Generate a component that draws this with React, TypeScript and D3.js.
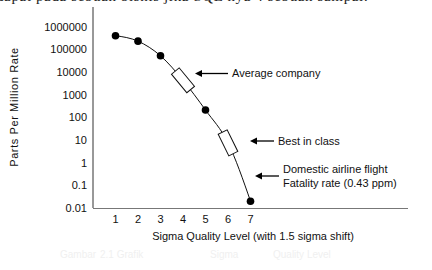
import React, { useRef, useEffect } from "react";
import * as d3 from "d3";

const sigmaLevels = [1, 2, 3, 4, 5, 6, 7];
const ppmValues = [400000, 230000, 52000, 4300, 210, 7.5, 0.02];
const markerKind = ["dot", "dot", "dot", "box", "dot", "box", "dot"];
const yTicks = [1000000, 100000, 10000, 1000, 100, 10, 1, 0.1, 0.01];
const yTickLabels = ["1000000", "100000", "10000", "1000", "100", "10", "1", "0.1", "0.01"];

const notes = [
  { lines: ["Average company"], head: 195, tail: 228, y: 73.5, tx: 232 },
  { lines: ["Best in class"], head: 250, tail: 274, y: 141, tx: 278 },
  { lines: ["Domestic airline flight", "Fatality rate (0.43 ppm)"], head: 255, tail: 279, y: 176, tx: 283 },
];

const captionWords = [
  { t: "Gambar", x: 60 },
  { t: "2.1 Grafik", x: 100 },
  { t: "Sigma", x: 210 },
  { t: "Quality Level", x: 273 },
];

const App = () => {
  const ref = useRef<SVGSVGElement>(null);

  useEffect(() => {
    if (!ref.current) return;
    const svg = d3.select(ref.current);
    svg.selectAll("*").remove();

    const font = "Arial, 'Liberation Sans', sans-serif";

    svg.append("rect").attr("width", 432).attr("height", 270).attr("fill", "#fff");

    // cut-off line of the surrounding document text (only its lower edge shows)
    svg
      .append("text")
      .attr("x", -4)
      .attr("y", 0.5)
      .attr("textLength", 372)
      .attr("font-family", "'Liberation Serif', 'Times New Roman', serif")
      .attr("font-size", 15)
      .attr("fill", "#222")
      .text("dapat pada sebuah bisnis jika SQL nya 4 sebuah sampai:");

    const x = d3.scaleLinear().domain([0, 14]).range([93, 408]);
    const y = d3.scaleLog().domain([0.01, 1000000]).range([208, 26.7]);

    // axes
    svg
      .append("line")
      .attr("x1", 93).attr("x2", 93)
      .attr("y1", 7).attr("y2", 208)
      .attr("stroke", "#333");
    svg
      .append("line")
      .attr("x1", 93).attr("x2", 408)
      .attr("y1", 208.5).attr("y2", 208.5)
      .attr("stroke", "#777");

    svg
      .append("g")
      .selectAll("text")
      .data(yTicks)
      .enter()
      .append("text")
      .attr("x", 87)
      .attr("y", (d) => y(d))
      .attr("dy", "0.35em")
      .attr("text-anchor", "end")
      .attr("font-family", font)
      .attr("font-size", 11)
      .attr("fill", "#111")
      .text((d, i) => yTickLabels[i]);

    svg
      .append("g")
      .selectAll("text")
      .data(sigmaLevels)
      .enter()
      .append("text")
      .attr("x", (d) => x(d))
      .attr("y", 219.5)
      .attr("dy", "0.35em")
      .attr("text-anchor", "middle")
      .attr("font-family", font)
      .attr("font-size", 11)
      .attr("fill", "#111")
      .text((d) => d);

    svg
      .append("text")
      .attr("x", 253)
      .attr("y", 236)
      .attr("dy", "0.35em")
      .attr("text-anchor", "middle")
      .attr("font-family", font)
      .attr("font-size", 11)
      .attr("fill", "#111")
      .text("Sigma Quality Level (with 1.5 sigma shift)");

    svg
      .append("text")
      .attr("transform", "translate(14,107) rotate(-90)")
      .attr("dy", "0.35em")
      .attr("text-anchor", "middle")
      .attr("font-family", font)
      .attr("font-size", 11)
      .attr("letter-spacing", 0.6)
      .attr("fill", "#111")
      .text("Parts Per Million Rate");

    // the curve
    const pts: [number, number][] = sigmaLevels.map((s, i) => [x(s), y(ppmValues[i])]);
    svg
      .append("path")
      .attr("d", d3.line().curve(d3.curveMonotoneX)(pts))
      .attr("fill", "none")
      .attr("stroke", "#111")
      .attr("stroke-width", 1);

    pts.forEach((p, i) => {
      if (markerKind[i] === "dot") {
        svg
          .append("circle")
          .attr("cx", p[0])
          .attr("cy", p[1])
          .attr("r", 3.8)
          .attr("fill", "#000");
      } else {
        // box tilted along the local direction of the line
        const prev = pts[i - 1];
        const next = pts[i + 1];
        const ang = (Math.atan2(next[1] - prev[1], next[0] - prev[0]) * 180) / Math.PI;
        svg
          .append("rect")
          .attr("x", -12)
          .attr("y", -5)
          .attr("width", 24)
          .attr("height", 10)
          .attr("transform", `translate(${p[0]},${p[1]}) rotate(${ang})`)
          .attr("fill", "#fff")
          .attr("stroke", "#111")
          .attr("stroke-width", 1);
      }
    });

    // annotations with arrows
    notes.forEach((n) => {
      svg
        .append("line")
        .attr("x1", n.head + 5)
        .attr("x2", n.tail)
        .attr("y1", n.y)
        .attr("y2", n.y)
        .attr("stroke", "#000")
        .attr("stroke-width", 1.3);
      svg
        .append("path")
        .attr("d", `M${n.head},${n.y} L${n.head + 7},${n.y - 3.5} L${n.head + 7},${n.y + 3.5} Z`)
        .attr("fill", "#000");
      const top = n.y - ((n.lines.length - 1) * 14.5) / 2;
      n.lines.forEach((t, k) => {
        svg
          .append("text")
          .attr("x", n.tx)
          .attr("y", top + k * 14.5)
          .attr("dy", "0.35em")
          .attr("font-family", font)
          .attr("font-size", 11)
          .attr("fill", "#111")
          .text(t);
      });
    });

    // very faint caption below the chart
    svg
      .append("g")
      .selectAll("text")
      .data(captionWords)
      .enter()
      .append("text")
      .attr("x", (d) => d.x)
      .attr("y", 258)
      .attr("font-family", font)
      .attr("font-size", 10)
      .attr("fill", "#f0f0f0")
      .text((d) => d.t);
  }, []);

  return (
    <svg
      ref={ref}
      width={432}
      height={270}
      style={{ position: "absolute", top: 0, left: 0, display: "block" }}
    />
  );
};

export default App;
